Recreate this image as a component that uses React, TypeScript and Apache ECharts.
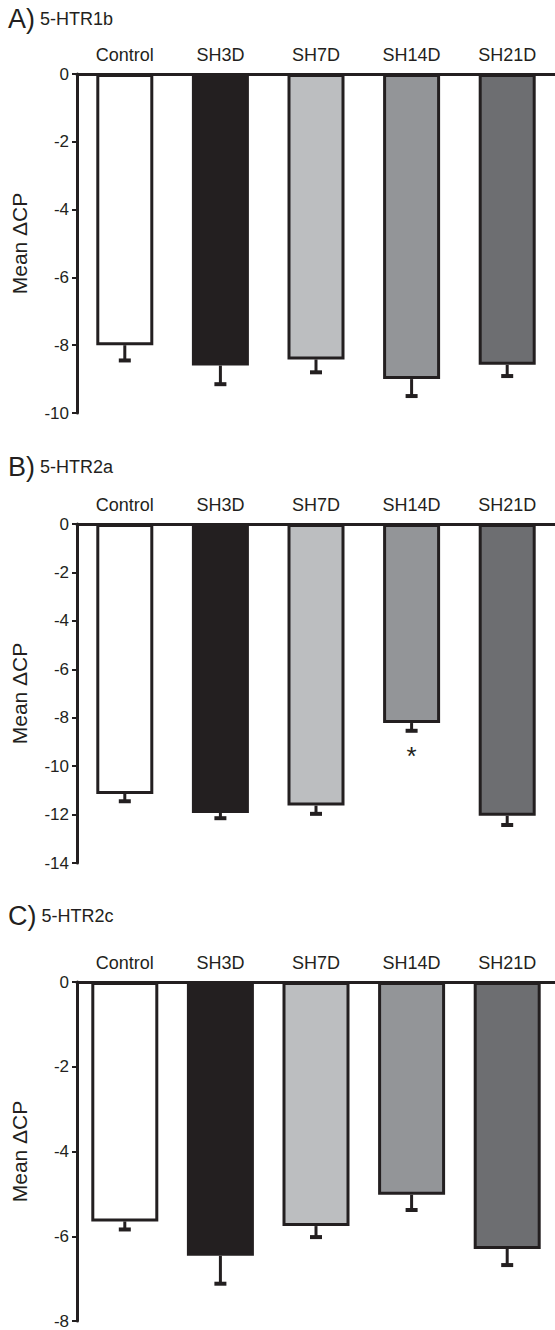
import React, { useEffect, useRef } from "react";
import * as echarts from "echarts";

const categories = ["Control", "SH3D", "SH7D", "SH14D", "SH21D"];
const barColors = ["#ffffff", "#231f20", "#bcbec0", "#939598", "#6d6e71"];

const htr1bMean = [-8.0, -8.6, -8.42, -9.0, -8.58];
const htr1bErr = [0.45, 0.55, 0.38, 0.5, 0.33];
const htr1bSig = ["", "", "", "", ""];

const htr2aMean = [-11.15, -11.93, -11.63, -8.22, -12.05];
const htr2aErr = [0.3, 0.22, 0.34, 0.32, 0.38];
const htr2aSig = ["", "", "", "*", ""];

const htr2cMean = [-5.65, -6.46, -5.76, -5.02, -6.3];
const htr2cErr = [0.19, 0.66, 0.26, 0.36, 0.38];
const htr2cSig = ["", "", "", "", ""];

const panelLetters = ["A)", "B)", "C)"];
const panelGenes = ["5-HTR1b", "5-HTR2a", "5-HTR2c"];
const yMins = [-10, -14, -8];
const yInterval = 2;
const yName = "Mean ΔCP";

const FONT = "Liberation Sans, Arial, Helvetica, sans-serif";
const INK = "#231f20";

export default function App() {
  const ref = useRef<HTMLDivElement>(null);
  useEffect(() => {
    if (!ref.current) return;
    const chart = echarts.init(ref.current, null, { renderer: "svg" });
    const means = [htr1bMean, htr2aMean, htr2cMean];
    const errs = [htr1bErr, htr2aErr, htr2cErr];
    const sigs = [htr1bSig, htr2aSig, htr2cSig];
    const gridTops = [74, 524, 982];
    const titleTops = [5, 453, 902];
    const barWidths = [57, 57, 67];

    const grids = gridTops.map((t) => ({ left: 77, top: t, width: 484, height: 339 }));
    const xAxes = gridTops.map((_, i) => ({
      type: "category",
      gridIndex: i,
      position: "top",
      data: categories,
      axisLine: { show: true, lineStyle: { color: INK, width: 3 } },
      axisTick: { show: false },
      axisLabel: { fontSize: 18, color: INK, margin: 10, fontFamily: FONT },
      splitLine: { show: false },
    }));
    const yAxes = gridTops.map((_, i) => ({
      type: "value",
      gridIndex: i,
      min: yMins[i],
      max: 0,
      interval: yInterval,
      axisLine: { show: true, lineStyle: { color: INK, width: 3 } },
      axisTick: { show: true, length: 5, lineStyle: { color: INK, width: 2 } },
      axisLabel: { fontSize: 17, color: INK, margin: 8, fontFamily: FONT },
      splitLine: { show: false },
      name: yName,
      nameLocation: "middle",
      nameGap: 47,
      nameTextStyle: { fontSize: 21, color: INK, fontFamily: FONT },
    }));

    const series: any[] = [];
    means.forEach((m, i) => {
      series.push({
        type: "bar",
        xAxisIndex: i,
        yAxisIndex: i,
        barWidth: barWidths[i],
        data: m.map((v, k) => ({
          value: v,
          itemStyle: { color: barColors[k], borderColor: INK, borderWidth: 3 },
        })),
        z: 2,
      });
      series.push({
        type: "custom",
        xAxisIndex: i,
        yAxisIndex: i,
        z: 3,
        data: m.map((v, k) => [k, v, errs[i][k]]),
        renderItem: (params: any, api: any) => {
          const idx = api.value(0);
          const mean = api.value(1);
          const err = api.value(2);
          const sig = sigs[i][params.dataIndex];
          const p0 = api.coord([idx, mean]);
          const p1 = api.coord([idx, mean - err]);
          const cap = 6;
          const children: any[] = [
            {
              type: "line",
              shape: { x1: p0[0], y1: p0[1], x2: p1[0], y2: p1[1] },
              style: { stroke: INK, lineWidth: 3 },
            },
            {
              type: "line",
              shape: { x1: p1[0] - cap, y1: p1[1], x2: p1[0] + cap, y2: p1[1] },
              style: { stroke: INK, lineWidth: 4 },
            },
          ];
          if (sig) {
            children.push({
              type: "text",
              x: p1[0],
              y: p1[1] + 12,
              style: {
                text: sig,
                fontSize: 26,
                fontFamily: FONT,
                fill: INK,
                align: "center",
                verticalAlign: "top",
              },
            });
          }
          return { type: "group", children };
        },
      });
    });

    const titles = titleTops.map((t, i) => ({
      left: 8,
      top: t,
      padding: 0,
      text: `{a|${panelLetters[i]}} {b|${panelGenes[i]}}`,
      textStyle: {
        fontWeight: "normal",
        rich: {
          a: { fontSize: 27, color: INK, fontFamily: FONT, fontWeight: "normal" },
          b: { fontSize: 18, color: INK, fontFamily: FONT, fontWeight: "normal" },
        },
      },
    }));

    chart.setOption({
      animation: false,
      backgroundColor: "#ffffff",
      title: titles,
      grid: grids,
      xAxis: xAxes,
      yAxis: yAxes,
      series,
    });
    return () => chart.dispose();
  }, []);
  return (
    <div
      ref={ref}
      style={{ position: "absolute", left: 0, top: 0, width: 555, height: 1330 }}
    />
  );
}
